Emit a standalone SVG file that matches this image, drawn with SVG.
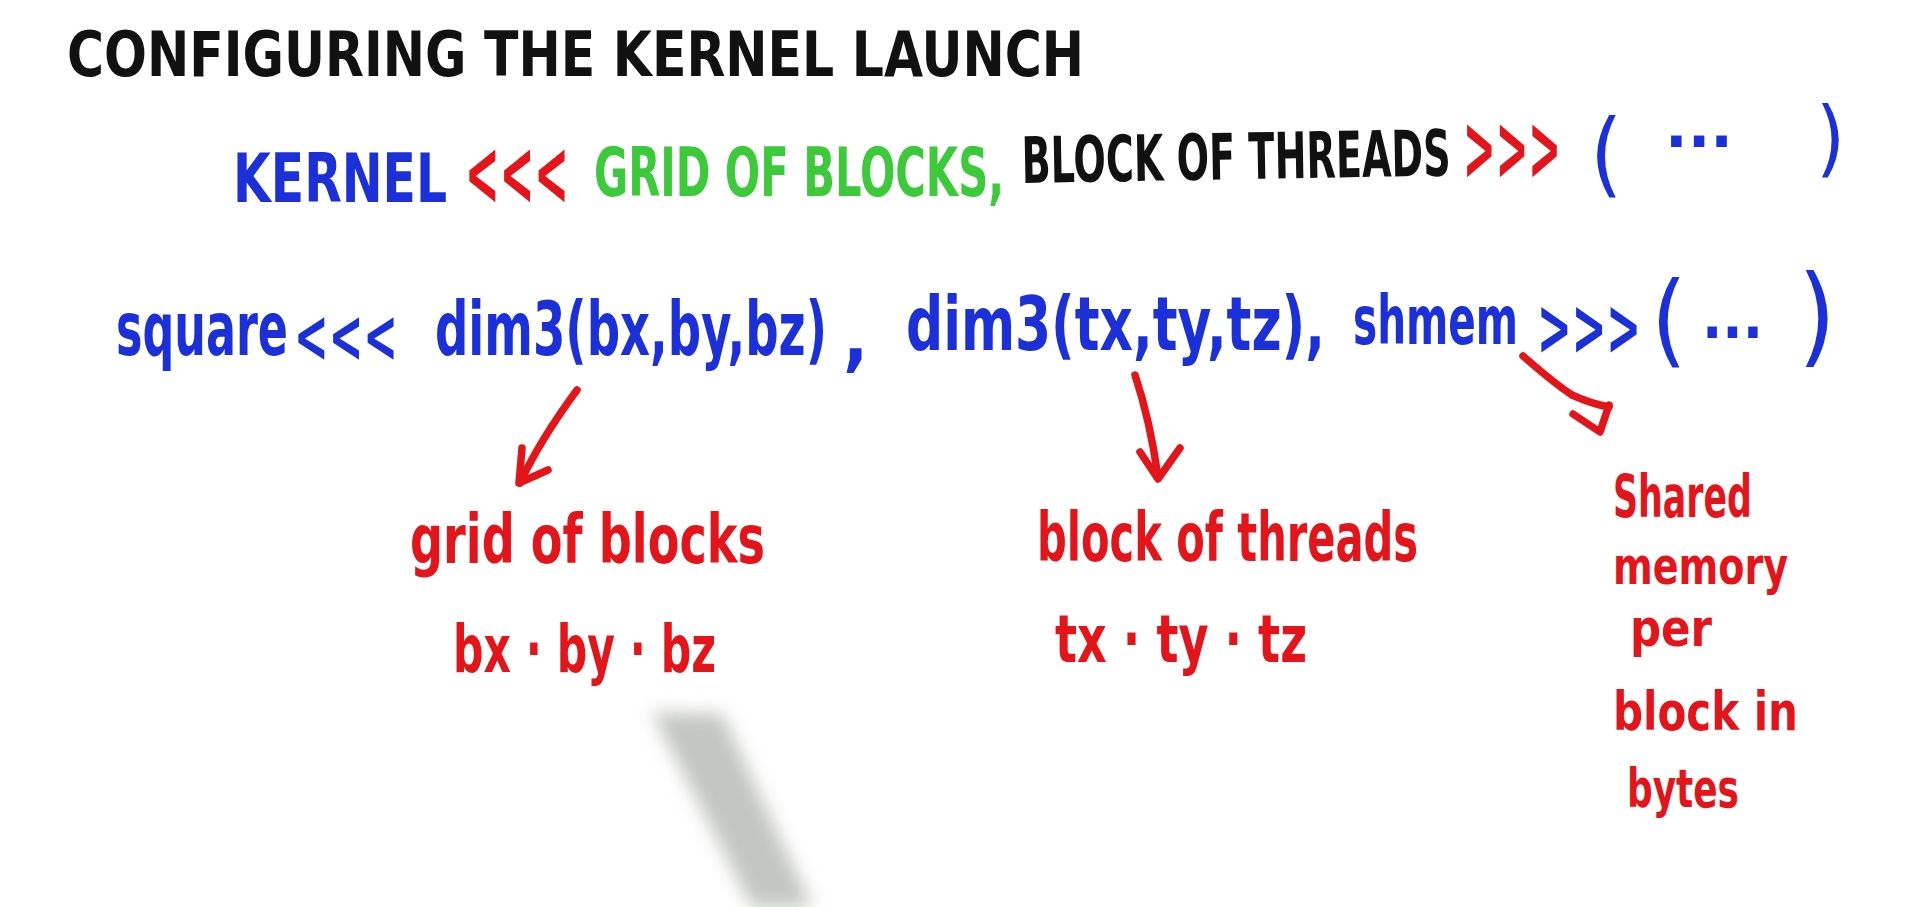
<svg xmlns="http://www.w3.org/2000/svg" width="1920" height="907" viewBox="0 0 1920 907">
<style>
text{font-family:"DejaVu Sans Condensed","Liberation Sans Narrow","Liberation Sans",sans-serif;font-weight:bold}
.blk{fill:#111}
.blu{fill:#1b30d8}
.red{fill:#e3151b}
.grn{fill:#3cc93a}
.thin{font-weight:normal}
.arrow{fill:none;stroke:#e3151b;stroke-width:7.5;stroke-linecap:round;stroke-linejoin:round}
</style>
<defs>
<filter id="blur" x="-50%" y="-50%" width="200%" height="200%"><feGaussianBlur stdDeviation="9"/></filter>
</defs>
<rect width="1920" height="907" fill="#ffffff"/>
<path d="M652 712 L722 714 L812 907 L752 907 Z" fill="#c3c6c1" filter="url(#blur)"/>

<g id="title">
<text class="blk" x="67" y="76" font-size="62" textLength="1017" lengthAdjust="spacingAndGlyphs">CONFIGURING THE KERNEL LAUNCH</text>
</g>

<g id="syntax">
<text class="blu" transform="translate(233 202) scale(1 1.236)" font-size="54.2" textLength="214" lengthAdjust="spacingAndGlyphs">KERNEL</text>
<text class="red" transform="translate(465 205) scale(1 2)" font-size="46" textLength="104" lengthAdjust="spacingAndGlyphs">&lt;&lt;&lt;</text>
<text class="grn" transform="translate(594 196) scale(1 1.453)" font-size="46.1" textLength="410" lengthAdjust="spacingAndGlyphs">GRID OF BLOCKS,</text>
<text class="blk" transform="translate(1022 183) rotate(-1) scale(1 1.516)" font-size="42.2" textLength="429" lengthAdjust="spacingAndGlyphs">BLOCK OF THREADS</text>
<text class="red" transform="translate(1463 180) scale(1 2.125)" font-size="43.3" textLength="98" lengthAdjust="spacingAndGlyphs">&gt;&gt;&gt;</text>
<text class="blu thin" x="1590" y="186" font-size="92">(</text>
<text class="blu" x="1665" y="147" font-size="60" textLength="68" lengthAdjust="spacingAndGlyphs">...</text>
<text class="blu thin" x="1816" y="167" font-size="83">)</text>
</g>

<g id="call">
<text class="blu" transform="translate(116 355) scale(1 1.498)" font-size="49.4" textLength="172" lengthAdjust="spacingAndGlyphs">square</text>
<text class="blu" transform="translate(294 362) scale(1 1.609)" font-size="46" textLength="104" lengthAdjust="spacingAndGlyphs">&lt;&lt;&lt;</text>
<g id="grid-arg">
<text class="blu" transform="translate(435 355) scale(1 1.445)" font-size="51.2" textLength="392" lengthAdjust="spacingAndGlyphs">dim3(bx,by,bz)</text>
</g>
<text class="blu" x="843" y="362" font-size="74">,</text>
<g id="block-arg">
<text class="blu" transform="translate(906 350) scale(1 1.3)" font-size="56.9" textLength="419" lengthAdjust="spacingAndGlyphs">dim3(tx,ty,tz),</text>
</g>
<g id="shmem-arg">
<text class="blu" transform="translate(1353 344) scale(1 1.508)" font-size="45.1" textLength="165" lengthAdjust="spacingAndGlyphs">shmem</text>
</g>
<text class="blu" transform="translate(1537 355) scale(1 1.739)" font-size="46" textLength="104" lengthAdjust="spacingAndGlyphs">&gt;&gt;&gt;</text>
<text class="blu thin" x="1651" y="354" font-size="102">(</text>
<text class="blu" x="1702" y="338" font-size="60" textLength="61" lengthAdjust="spacingAndGlyphs">...</text>
<text class="blu thin" x="1798" y="353" font-size="108">)</text>
</g>

<g id="label-grid">
<text class="red" x="410" y="563" font-size="68" textLength="355" lengthAdjust="spacingAndGlyphs">grid of blocks</text>
<text class="red" x="453" y="672" font-size="66" textLength="263" lengthAdjust="spacingAndGlyphs">bx · by · bz</text>
</g>

<g id="label-block">
<text class="red" x="1037" y="561" font-size="68" textLength="381" lengthAdjust="spacingAndGlyphs">block of threads</text>
<text class="red" x="1055" y="662" font-size="66" textLength="252" lengthAdjust="spacingAndGlyphs">tx · ty · tz</text>
</g>

<g id="label-shmem">
<text class="red" x="1613" y="517" font-size="58" textLength="139" lengthAdjust="spacingAndGlyphs">Shared</text>
<text class="red" x="1613" y="584" font-size="52" textLength="175" lengthAdjust="spacingAndGlyphs">memory</text>
<text class="red" x="1630" y="646" font-size="52" textLength="82" lengthAdjust="spacingAndGlyphs">per</text>
<text class="red" x="1613" y="730" font-size="54" textLength="185" lengthAdjust="spacingAndGlyphs">block in</text>
<text class="red" x="1627" y="807" font-size="54" textLength="112" lengthAdjust="spacingAndGlyphs">bytes</text>
</g>

<g id="connectors">
<path class="arrow" d="M577 390 Q540 440 520 483"/>
<path class="arrow" d="M522 448 L519 483 L548 470"/>
<path class="arrow" d="M1135 375 Q1150 420 1158 477"/>
<path class="arrow" d="M1140 452 L1158 479 L1180 448"/>
<path class="arrow" d="M1523 356 Q1555 384 1572 395 Q1592 404 1609 407"/>
<path class="arrow" d="M1573 414 L1600 432 L1609 405"/>
</g>
</svg>
